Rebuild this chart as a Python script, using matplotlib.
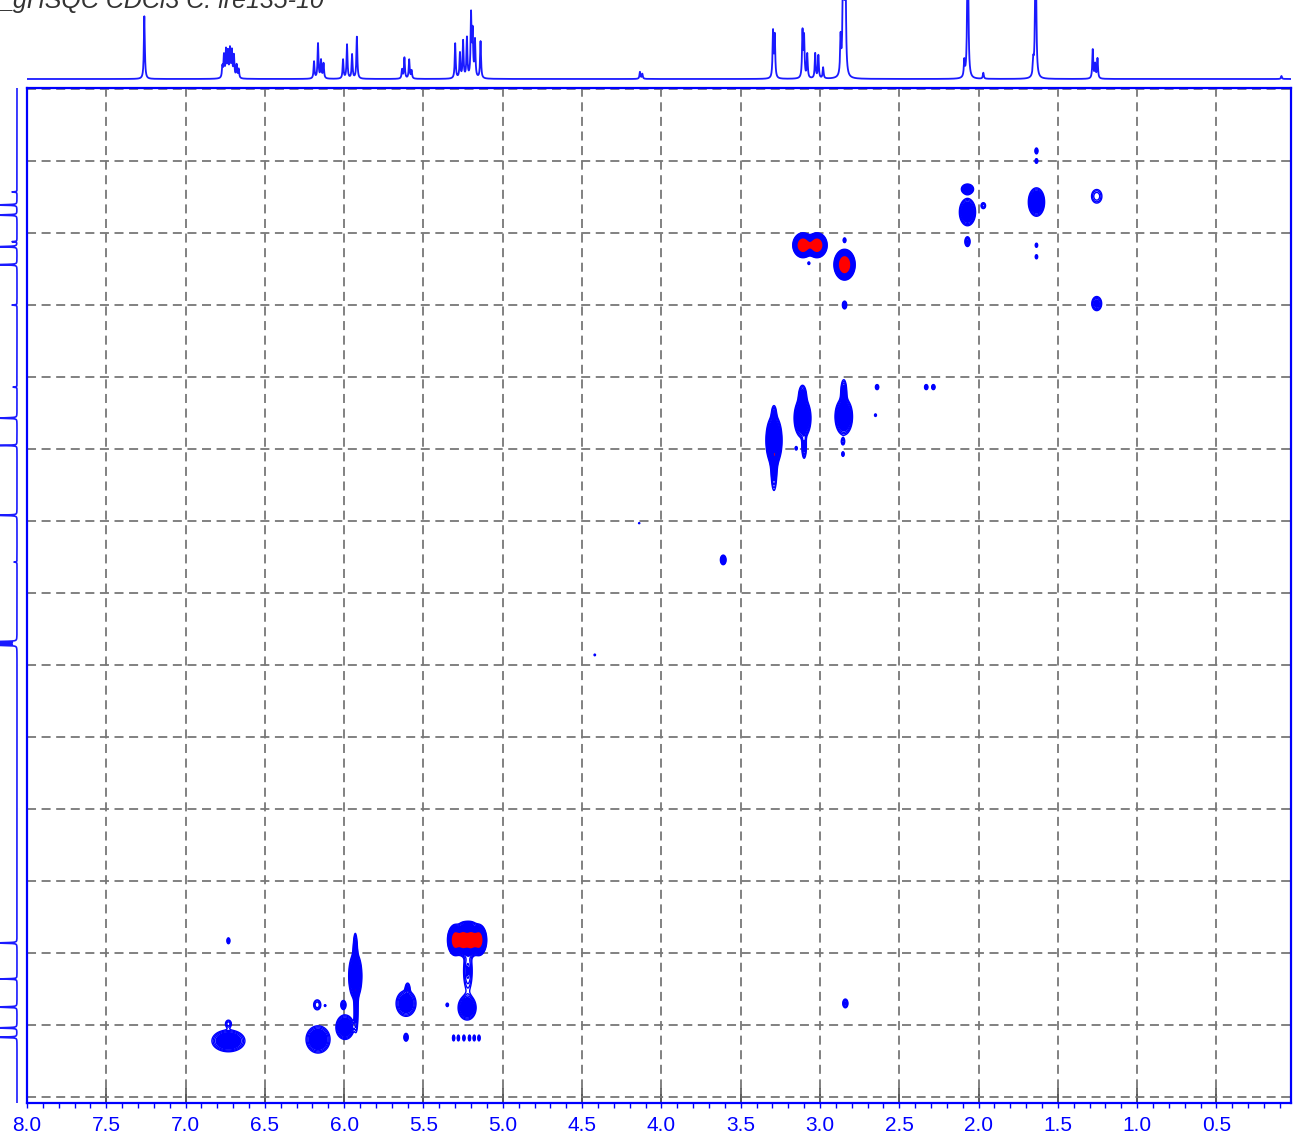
import numpy as np
import matplotlib
matplotlib.use("Agg")
import matplotlib.pyplot as plt
from matplotlib.ticker import MultipleLocator, FormatStrFormatter

plt.rcParams['font.family'] = ['Liberation Sans', 'DejaVu Sans']
plt.rcParams['lines.scale_dashes'] = False

TITLE = "_gHSQC CDCl3 C. lre135-10"

# ---- 1H trace (top): chemical shift (ppm) and peak intensity ----
h_shift = [7.26,
           6.768, 6.758, 6.745, 6.733, 6.72, 6.708, 6.695, 6.678, 6.665,
           6.19, 6.165, 6.146, 6.13,
           6.007, 5.982, 5.95, 5.92,
           5.635, 5.62, 5.59, 5.575,
           5.30, 5.27, 5.25, 5.226, 5.20, 5.19, 5.175, 5.14,
           4.135, 4.12,
           3.296, 3.285,
           3.11, 3.10, 3.08, 3.03, 3.01, 2.98,
           2.87, 2.853, 2.84,
           2.09, 2.068, 1.97,
           1.655, 1.64,
           1.28, 1.265, 1.25,
           0.09]
h_int = [63,
         11, 22, 27, 25, 28, 26, 22, 13, 9,
         17, 35, 18, 15,
         19, 34, 24, 42,
         9, 21, 19, 8,
         35, 25, 37, 40, 62, 44, 37, 37,
         7, 5,
         46, 42,
         46, 40, 24, 25, 23, 11,
         37, 200, 150,
         16, 200, 6,
         14, 200,
         29, 14, 20,
         3]

# ---- 13C trace (left): chemical shift (ppm) and peak intensity ----
c_shift = [14.3, 16.1, 17.5, 21.2, 21.9, 24.4, 30.0, 41.4, 45.7, 49.5,
           59.2, 65.7, 76.75, 77.0, 77.25, 118.6, 123.6, 127.5, 130.4, 131.7]
c_int = [5, 30, 30, 5, 30, 30, 5, 4, 30, 20,
         30, 3, 30, 30, 30, 30, 18, 30, 30, 30]

# ---- HSQC cross peaks: 1H shift, 13C shift, amplitude, 1H width, 13C width ----
xp_h = [2.07, 2.07, 2.07, 1.97, 1.635, 1.635, 1.635, 1.635, 1.635, 1.255,
        1.255, 3.107, 3.019, 2.845, 2.845, 2.845, 3.07, 2.64, 2.65, 2.33,
        2.285, 3.29, 3.29, 3.287, 3.29, 3.11, 3.11, 3.10, 3.15, 2.85,
        2.85, 2.855, 2.855, 3.61, 4.14, 4.42, 6.73, 6.73, 6.73, 6.165,
        6.17, 6.12, 5.995, 6.005, 5.93, 5.93, 5.925, 5.928, 5.61, 5.60,
        5.61, 5.30, 5.25, 5.20, 5.15, 5.22, 5.22, 5.225, 5.35, 5.31,
        5.28, 5.245, 5.21, 5.18, 5.15, 2.84]
xp_c = [17.1, 13.9, 21.2, 16.2, 15.7, 8.6, 10.0, 21.7, 23.3, 14.9,
        29.8, 21.7, 21.7, 24.4, 21.0, 30.0, 24.2, 41.4, 45.3, 41.4,
        41.4, 48.8, 52.8, 50.8, 45.0, 45.7, 42.5, 49.8, 49.9, 45.5,
        42.0, 49.0, 50.7, 65.4, 60.3, 78.6, 132.2, 129.8, 118.3, 132.0,
        127.2, 127.3, 130.3, 127.2, 123.2, 119.5, 128.0, 125.2, 127.0, 124.8,
        131.7, 118.2, 118.2, 118.2, 118.2, 116.0, 122.5, 127.6, 127.2, 131.8,
        131.8, 131.8, 131.8, 131.8, 131.8, 127.0]
xp_amp = [6, 4, 2.5, 2, 7, 2, 1.8, 1.6, 1.6, 2.2,
          3, 28, 28, 28, 1.8, 2.5, 1.5, 2, 1.5, 2,
          2, 8, 3, 6, 2, 7, 3, 2.5, 1.6, 7,
          3, 2, 1.8, 3, 1.3, 1.4, 6, 2, 2, 6,
          2.2, 1.4, 6, 2.5, 6, 3, 3, 8, 5, 2,
          2.5, 20, 20, 20, 20, 2, 2.5, 6, 1.6, 2,
          2, 2, 2, 2, 2, 2.5]
xp_wh = [0.027, 0.023, 0.012, 0.012, 0.026, 0.008, 0.008, 0.008, 0.008, 0.026,
         0.021, 0.025, 0.025, 0.026, 0.008, 0.010, 0.007, 0.009, 0.007, 0.009,
         0.009, 0.025, 0.012, 0.006, 0.010, 0.027, 0.015, 0.010, 0.007, 0.028,
         0.012, 0.008, 0.007, 0.012, 0.006, 0.006, 0.055, 0.015, 0.008, 0.040,
         0.018, 0.006, 0.030, 0.012, 0.022, 0.008, 0.008, 0.005, 0.035, 0.010,
         0.010, 0.020, 0.020, 0.020, 0.020, 0.030, 0.020, 0.030, 0.008, 0.006,
         0.006, 0.006, 0.006, 0.006, 0.006, 0.012]
xp_wc = [1.0, 0.42, 0.5, 0.35, 1.0, 0.35, 0.3, 0.3, 0.3, 0.75,
         0.66, 0.67, 0.67, 0.83, 0.3, 0.4, 0.2, 0.3, 0.2, 0.3,
         0.3, 1.7, 2.0, 0.3, 0.8, 1.4, 0.9, 1.1, 0.25, 1.3,
         1.1, 0.35, 0.3, 0.45, 0.12, 0.15, 0.8, 0.4, 0.35, 1.0,
         0.55, 0.15, 0.9, 0.45, 1.7, 1.5, 1.8, 0.35, 1.0, 0.5,
         0.4, 0.88, 0.88, 0.88, 0.88, 0.3, 2.0, 0.9, 0.25, 0.35,
         0.35, 0.35, 0.35, 0.35, 0.35, 0.45]

H_RANGE = (8.0, 0.03)
C_RANGE = (140.83, -0.14)
TOP_MAX = 79      # vertical extent of the 1H panel above its baseline
LEFT_MAX = 17     # horizontal extent of the 13C panel left of its baseline


def lorentz_sum(axis, centers, heights, hwhm):
    out = np.zeros_like(axis)
    for c, h in zip(centers, heights):
        out += h / (1.0 + ((axis - c) / hwhm) ** 2)
    return out


# figure layout in pixels
W, H = 1297, 1137
fig = plt.figure(figsize=(W / 100, H / 100), dpi=100)


def box(l, t, r, b):
    return [l / W, 1 - b / H, (r - l) / W, (b - t) / H]


ax = fig.add_axes(box(27, 88, 1291, 1103))
ax_top = fig.add_axes(box(27, 0, 1291, 86))
ax_left = fig.add_axes(box(0, 88, 22, 1103))

# ---- 2D contour map ----
hg = np.linspace(0.03, 8.0, 2200)
cg = np.linspace(-0.14, 140.83, 1500)
Z = np.zeros((cg.size, hg.size))
for h0, c0, a, sh, sc in zip(xp_h, xp_c, xp_amp, xp_wh, xp_wc):
    gx = np.exp(-0.5 * ((hg - h0) / max(sh, 0.005)) ** 2)
    gy = np.exp(-0.5 * ((cg - c0) / sc) ** 2)
    Z += a * np.outer(gy, gx)

ax.contourf(hg, cg, Z, levels=[2.4, 10, Z.max() + 1],
            colors=['#0000ff', '#ff0000'], zorder=3)
ax.contour(hg, cg, Z, levels=[1.0, 1.3, 1.7, 2.2, 2.9, 3.8, 5.0, 6.5, 8.5],
           colors='#0000ff', linewidths=1.0, zorder=3)

ax.set_xlim(*H_RANGE)
ax.set_ylim(*C_RANGE)
ax.xaxis.set_major_locator(MultipleLocator(0.5))
ax.xaxis.set_minor_locator(MultipleLocator(0.1))
ax.xaxis.remove_overlapping_locs = False
ax.xaxis.set_major_formatter(FormatStrFormatter('%.1f'))
ax.yaxis.set_major_locator(MultipleLocator(10))
ax.tick_params(axis='x', which='major', direction='in', length=11, width=1.2,
               color='#555555', labelcolor='#0000ff', labelsize=15, pad=9.5)
ax.tick_params(axis='x', which='minor', direction='out', length=3.5, width=1.0,
               color='#0000ff')
ax.tick_params(axis='y', which='both', length=0, labelleft=False)
ax.set_axisbelow(True)
ax.grid(True, which='major', color='#777777', linestyle='--', linewidth=1.3,
        dashes=(6.5, 4))
for s in ax.spines.values():
    s.set_color('#0000ff')
    s.set_linewidth(1.6)

# ---- 1H projection (tall peaks run off the top of the panel) ----
hx = np.linspace(0.03, 8.0, 16000)
h_trace = np.minimum(lorentz_sum(hx, h_shift, h_int, 0.0035), TOP_MAX + 2)
ax_top.plot(hx, h_trace, color='#1a1aff', lw=1.3)
ax_top.set_xlim(*H_RANGE)
ax_top.set_ylim(-7, TOP_MAX)
ax_top.axis('off')

# ---- 13C projection (tall peaks run off the left edge) ----
cy = np.linspace(-0.14, 140.83, 10000)
c_trace = np.minimum(lorentz_sum(cy, c_shift, c_int, 0.035), LEFT_MAX + 0.5)
ax_left.plot(c_trace, cy, color='#1a1aff', lw=1.2)
ax_left.set_xlim(LEFT_MAX, -5)
ax_left.set_ylim(*C_RANGE)
ax_left.axis('off')

fig.text(0, 1 - 8 / H, TITLE, fontsize=18, style='italic', color='#333333',
         ha='left', va='baseline')

fig.savefig('out.png', dpi=100)
